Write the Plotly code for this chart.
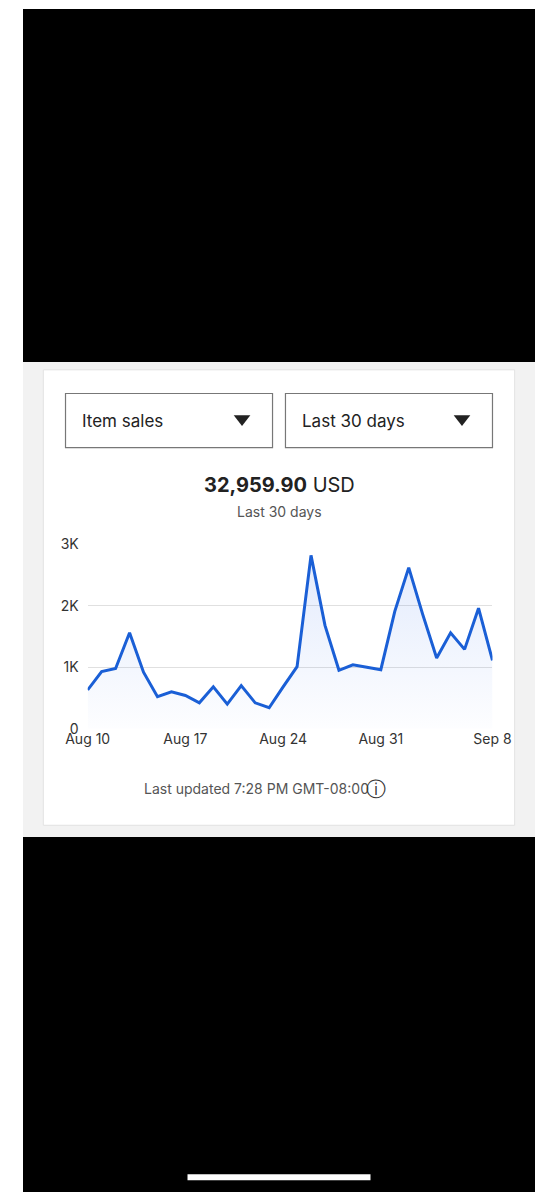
import pandas as pd
import plotly.graph_objects as go

dates = pd.date_range("2024-08-10", "2024-09-08", freq="D")
sales = [630, 930, 980, 1560, 920, 520, 600, 540, 420, 680,
         400, 700, 420, 340, 680, 1010, 2820, 1680, 950, 1040,
         1000, 960, 1910, 2620, 1860, 1150, 1560, 1290, 1960, 1110]
tick_dates = ["2024-08-10", "2024-08-17", "2024-08-24", "2024-08-31", "2024-09-08"]
tick_text = ["Aug 10", "Aug 17", "Aug 24", "Aug 31", "Sep 8"]

W, H = 554, 1200
fx = lambda px: px / W
fy = lambda py: 1 - py / H

fig = go.Figure()
fig.add_trace(go.Scatter(
    x=dates, y=sales, mode="lines",
    line=dict(color="#1a5fd6", width=3),
    fill="tozeroy",
    fillgradient=dict(type="vertical",
                      colorscale=[[0, "rgba(37,99,235,0.01)"], [1, "rgba(37,99,235,0.13)"]]),
    hoverinfo="x+y",
))

shapes = [
    dict(type="rect", x0=0, x1=1, y0=fy(358), y1=1, fillcolor="black", line_width=0, layer="below"),
    dict(type="rect", x0=0, x1=1, y0=fy(1200), y1=fy(840), fillcolor="black", line_width=0, layer="below"),
    dict(type="rect", x0=0, x1=1, y0=fy(840), y1=fy(358), fillcolor="#f2f2f2", line_width=0, layer="below"),
    dict(type="rect", x0=fx(22), x1=fx(532), y0=fy(828), y1=fy(366), fillcolor="white",
         line=dict(color="#e2e2e2", width=1), layer="below"),
    dict(type="rect", x0=fx(46), x1=fx(270), y0=fy(445), y1=fy(390), fillcolor="white",
         line=dict(color="#777", width=1.2), layer="below"),
    dict(type="rect", x0=fx(284), x1=fx(508), y0=fy(445), y1=fy(390), fillcolor="white",
         line=dict(color="#777", width=1.2), layer="below"),
    dict(type="rect", x0=fx(178), x1=fx(376), y0=fy(1188), y1=fy(1182), fillcolor="white",
         line_width=0),
]
for cx in (237, 475):
    shapes.append(dict(type="path", xref="paper", yref="paper",
                       path=f"M {fx(cx-9)} {fy(412)} L {fx(cx+9)} {fy(412)} L {fx(cx)} {fy(423)} Z",
                       fillcolor="#222", line_width=0))
for s in shapes:
    s.setdefault("xref", "paper")
    s.setdefault("yref", "paper")

font = "Inter, Noto Sans, sans-serif"
annotations = [
    dict(x=fx(62), y=fy(418), text="Item sales", xanchor="left", font=dict(size=17, color="#222")),
    dict(x=fx(300), y=fy(418), text="Last 30 days", xanchor="left", font=dict(size=17, color="#222")),
    dict(x=fx(277), y=fy(483), text="<b>32,959.90</b> USD", font=dict(size=20, color="#222")),
    dict(x=fx(277), y=fy(510), text="Last 30 days", font=dict(size=14, color="#555")),
    dict(x=fx(377), y=fy(791), text="Last updated 7:28 PM GMT-08:00", xanchor="right",
         font=dict(size=14, color="#555")),
    dict(x=fx(395), y=fy(791), text="ⓘ", font=dict(size=20, color="#333")),
]
for a in annotations:
    a.update(xref="paper", yref="paper", showarrow=False, yanchor="middle")

fig.update_layout(
    width=W, height=H, margin=dict(l=0, r=0, t=0, b=0),
    paper_bgcolor="white", plot_bgcolor="rgba(0,0,0,0)",
    font=dict(family=font, color="#333"),
    showlegend=False, shapes=shapes, annotations=annotations,
    xaxis=dict(domain=[fx(70), fx(508)], range=[dates[0], dates[-1]], showgrid=False,
               tickvals=tick_dates, ticktext=tick_text, tickfont=dict(size=14, color="#333"),
               ticks="", zeroline=False, showline=False),
    yaxis=dict(domain=[fy(730), fy(543)], range=[0, 3000], tickvals=[0, 1000, 2000, 3000],
               ticktext=["0", "1K", "2K", "3K"], gridcolor="#e0e0e0", zeroline=False,
               tickfont=dict(size=14, color="#333"), ticklabelstandoff=8),
)

fig.write_html("out.html", config={"displayModeBar": False},
               post_script="document.body.style.margin='0';document.body.style.overflow='hidden';")
